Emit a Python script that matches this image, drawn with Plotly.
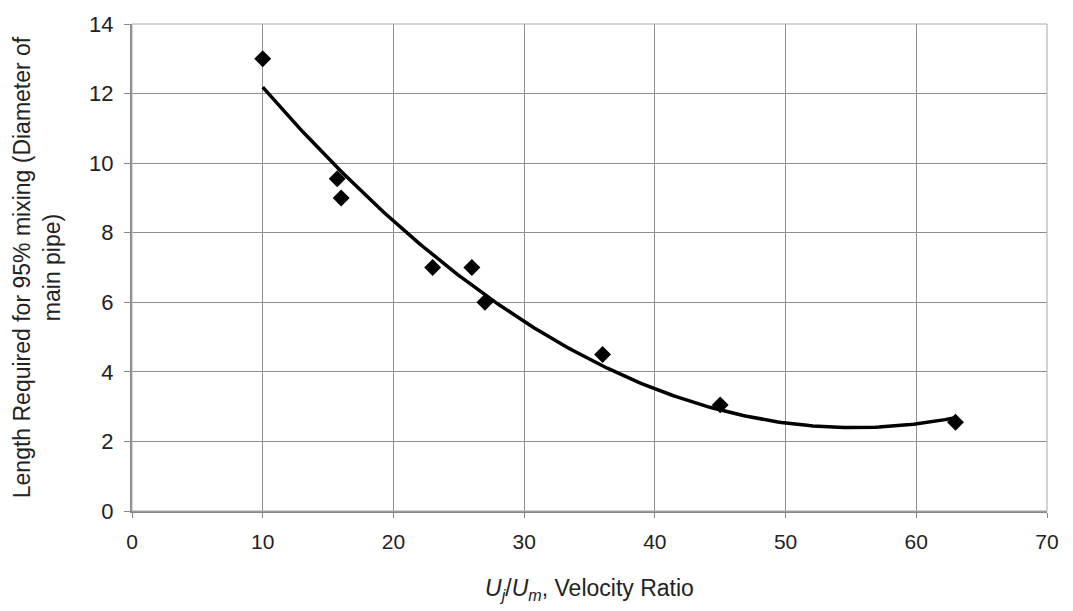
import numpy as np
import plotly.graph_objects as go

# Measured data points
velocity_ratio = [10, 15.7, 16, 23, 26, 27, 36, 45, 63]
mixing_length = [13.0, 9.55, 9.0, 7.0, 7.0, 6.0, 4.5, 3.05, 2.55]

x_ticks = [0, 10, 20, 30, 40, 50, 60, 70]
y_ticks = [0, 2, 4, 6, 8, 10, 12, 14]

# Second-order polynomial trendline (least squares, as in the original)
coef = np.polyfit(velocity_ratio, mixing_length, 2)
trend_x = np.linspace(min(velocity_ratio), max(velocity_ratio), 200)
trend_y = np.polyval(coef, trend_x)

fig = go.Figure()
fig.add_trace(go.Scatter(x=trend_x, y=trend_y, mode="lines",
                         line=dict(color="black", width=3.5), hoverinfo="skip"))
fig.add_trace(go.Scatter(x=velocity_ratio, y=mixing_length, mode="markers",
                         marker=dict(symbol="diamond", size=13, color="black")))

font = dict(family="Liberation Sans, Arial, sans-serif", size=22, color="#222")
fig.update_layout(
    width=1073, height=611,
    margin=dict(l=132, r=26, t=20, b=100),
    paper_bgcolor="white", plot_bgcolor="white",
    showlegend=False, font=font,
    xaxis=dict(range=[0, 70], tickvals=x_ticks, showgrid=True, gridcolor="#8f8f8f",
               gridwidth=1, showline=True, linecolor="#888", linewidth=2,
               ticks="outside", ticklen=5, tickcolor="#888", zeroline=False,
               ticklabelstandoff=6, tickfont=dict(size=21),
               title=dict(text="<i>U<sub>j</sub></i>/<i>U<sub>m</sub></i>, Velocity Ratio",
                          font=dict(size=23), standoff=28)),
    yaxis=dict(range=[0, 14], tickvals=y_ticks, showgrid=True, gridcolor="#8f8f8f",
               gridwidth=1, showline=True, linecolor="#888", linewidth=2,
               ticks="outside", ticklen=6, tickcolor="#888", zeroline=False,
               ticklabelstandoff=6, tickfont=dict(size=22),
               title=dict(text="Length Required for 95% mixing (Diameter of<br>main pipe)",
                          font=dict(size=23), standoff=22)),
)
fig.add_shape(type="rect", xref="paper", yref="paper", x0=0, y0=0, x1=1, y1=1,
              line=dict(color="#aaa", width=1))
fig.write_html("out.html")
